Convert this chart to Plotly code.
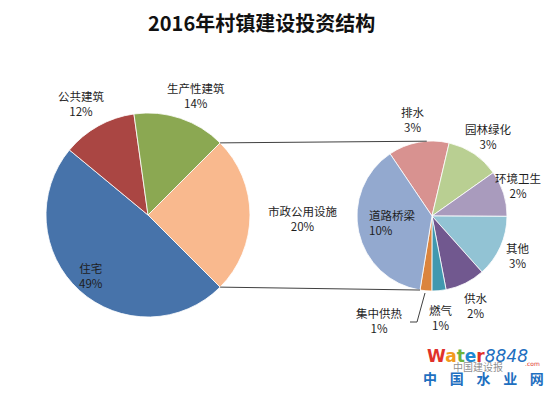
import math
import plotly.graph_objects as go

# ---- data (clockwise order) ----
main_labels = ["住宅", "公共建筑", "生产性建筑", "市政公用设施"]
main_values = [48.5, 11.8, 14.7, 25]
main_text = ["49%", "12%", "14%", "20%"]
main_colors = ["#4773AA", "#AA4643", "#8BA852", "#F9B98E"]

sub_labels = ["排水", "园林绿化", "环境卫生", "其他", "供水", "燃气", "集中供热", "道路桥梁"]
sub_values = [3.28, 2.88, 2.47, 3.33, 2.15, 0.76, 0.63, 9.5]
sub_text = ["3%", "3%", "2%", "3%", "2%", "1%", "1%", "10%"]
sub_colors = ["#D89290", "#B9CF92", "#A99BBD", "#92C3D4", "#71588F", "#4198AF", "#DB843D", "#93A9CF"]

title_text = "2016年村镇建设投资结构"

# page body has an 8px default margin: figure is sized to fit the 553x394 window
OFF = 8
W, H = 553 - OFF, 394 - OFF
FONT = "Noto Sans CJK SC, Microsoft YaHei, sans-serif"

# geometry (window pixels)
L_C, L_R = (148, 215), 102
R_C, R_R = (432, 216), 75
L_ROT = 135   # compass degrees where the first slice starts (clockwise)
R_ROT = -34


def px(x, y):
    return (x - OFF) / W, 1 - (y - OFF) / H


def dom(c, r):
    x0, y0 = px(c[0] - r, c[1] + r)
    x1, y1 = px(c[0] + r, c[1] - r)
    return dict(x=[x0, x1], y=[y0, y1])


fig = go.Figure()
fig.add_trace(go.Pie(labels=main_labels, values=main_values, sort=False,
                     direction="clockwise", rotation=L_ROT,
                     marker=dict(colors=main_colors, line=dict(color="#FFFFFF", width=0.8)),
                     textinfo="none", hoverinfo="label+percent", showlegend=False,
                     domain=dom(L_C, L_R)))
fig.add_trace(go.Pie(labels=sub_labels, values=sub_values, sort=False,
                     direction="clockwise", rotation=R_ROT,
                     marker=dict(colors=sub_colors, line=dict(color="#FFFFFF", width=0.8)),
                     textinfo="none", hoverinfo="label+value", showlegend=False,
                     domain=dom(R_C, R_R)))


def pt(c, r, compass_deg):
    a = math.radians(compass_deg)
    return c[0] + r * math.sin(a), c[1] - r * math.cos(a)


# connector lines from the "市政公用设施" slice edges to the second pie
tot_main = sum(main_values)
orange_start = L_ROT + sum(main_values[:-1]) / tot_main * 360
orange_end = L_ROT + 360
p_top = pt(L_C, L_R, orange_start)
p_bot = pt(L_C, L_R, orange_end)
tot_sub = sum(sub_values)
q_top = pt(R_C, R_R, -4)
q_bot = pt(R_C, R_R, R_ROT + sum(sub_values[:-1]) / tot_sub * 360)
shapes = []


def seg(a, b):
    x0, y0 = px(*a)
    x1, y1 = px(*b)
    shapes.append(dict(type="line", xref="paper", yref="paper", x0=x0, y0=y0, x1=x1, y1=y1,
                       line=dict(color="#404040", width=1)))


seg(p_top, q_top)
seg(p_bot, q_bot)
# leader for 集中供热
lead = [(410, 322), (417, 322), (425, 293)]
for a, b in zip(lead[:-1], lead[1:]):
    seg(a, b)

# label positions (window pixel centers of the first text line)
label_pos = {
    "公共建筑": (81, 96), "生产性建筑": (196, 88), "住宅": (91, 268), "市政公用设施": (302, 211),
    "排水": (413, 112), "园林绿化": (488, 129), "环境卫生": (518, 178), "其他": (518, 248),
    "供水": (476, 298), "燃气": (441, 310), "集中供热": (379, 313), "道路桥梁": (390, 215),
}
annotations = []
for labs, txts in [(main_labels, main_text), (sub_labels, sub_text)]:
    for lab, t in zip(labs, txts):
        x, y = label_pos[lab]
        left = lab == "道路桥梁"
        xa, ya = px(367 if left else x, y + 7)
        annotations.append(dict(x=xa, y=ya, xref="paper", yref="paper", showarrow=False,
                                xanchor="left" if left else "center", yanchor="middle",
                                align="left" if left else "center",
                                text=lab + "<br>" + t,
                                font=dict(family=FONT, size=11.5, color="#1E1E1E")))

# title
tx, ty = px(261, 22)
annotations.append(dict(x=tx, y=ty, xref="paper", yref="paper", showarrow=False,
                        xanchor="center", yanchor="middle", text="<b>" + title_text + "</b>",
                        font=dict(family=FONT, size=20, color="#111111")))

# watermark
wm = [("W", "#E0312B"), ("a", "#F29A1D"), ("t", "#6DB33F"), ("e", "#1E88D2"), ("r", "#E0312B")]
wx, wy = px(425, 356)
annotations.append(dict(x=wx, y=wy, xref="paper", yref="paper", showarrow=False,
                        xanchor="left", yanchor="middle",
                        text="<b>" + "".join(f"<span style='color:{c}'>{ch}</span>" for ch, c in wm) + "</b>"
                             + "<i><span style='color:#1E6FC0'>8848</span></i>",
                        font=dict(family="DejaVu Sans, sans-serif", size=17)))
cx, cy = px(532, 363)
annotations.append(dict(x=cx, y=cy, xref="paper", yref="paper", showarrow=False,
                        xanchor="center", yanchor="middle", text=".com",
                        font=dict(family="DejaVu Sans", size=6, color="#E0312B")))
gx, gy = px(483, 378)
annotations.append(dict(x=gx, y=gy, xref="paper", yref="paper", showarrow=False,
                        xanchor="center", yanchor="middle", text="<b>中    国    水    业    网</b>",
                        font=dict(family=FONT, size=14, color="#1E6FC0")))
bx, by = px(478, 366)
annotations.append(dict(x=bx, y=by, xref="paper", yref="paper", showarrow=False,
                        xanchor="center", yanchor="middle", text="中国建设报",
                        font=dict(family=FONT, size=10, color="rgba(90,90,90,0.7)")))

fig.update_layout(width=W, height=H, margin=dict(l=0, r=0, t=0, b=0),
                  paper_bgcolor="#FFFFFF", plot_bgcolor="#FFFFFF",
                  shapes=shapes, annotations=annotations, showlegend=False)
fig.write_html("out.html")
